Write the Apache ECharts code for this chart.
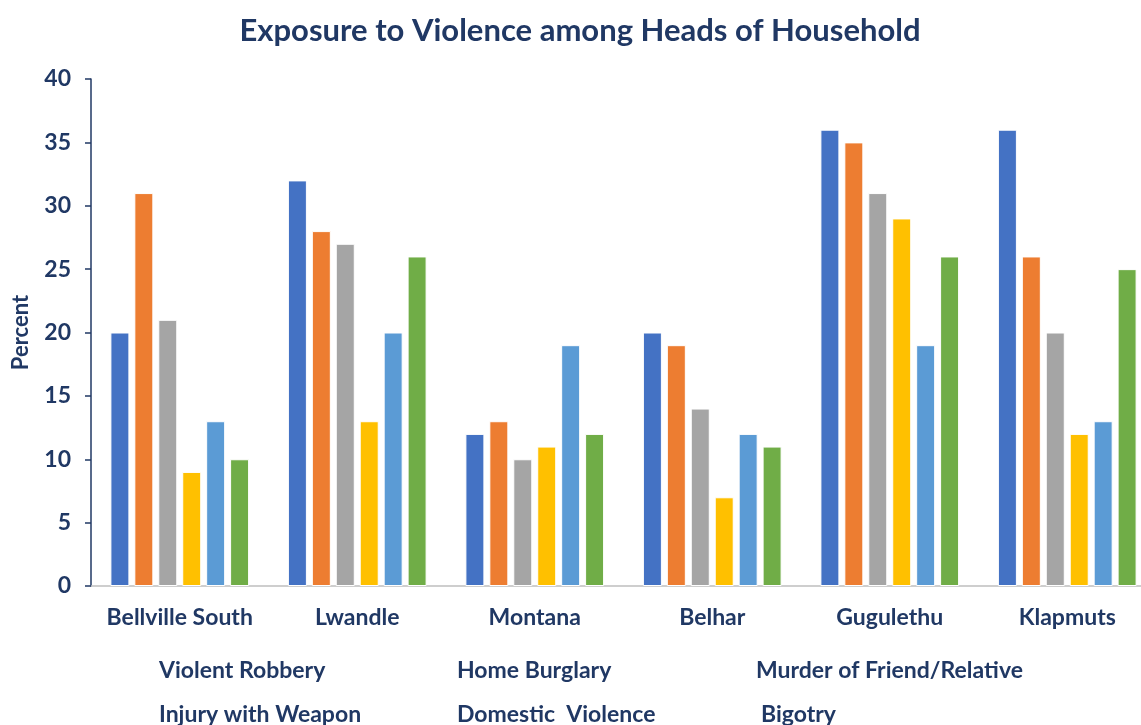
<!DOCTYPE html>
<html><head><meta charset="utf-8">
<script src="https://cdn.jsdelivr.net/npm/echarts@6/dist/echarts.min.js"></script>
<style>html,body{margin:0;padding:0;background:#fff;overflow:hidden}#c{width:1160px;height:725px}</style>
</head><body><div id="c"></div>
<script>
const categories = ['Bellville South', 'Lwandle', 'Montana', 'Belhar', 'Gugulethu', 'Klapmuts'];
const seriesNames = ['Violent Robbery', 'Home Burglary', 'Murder of Friend/Relative', 'Injury with Weapon', 'Domestic  Violence', 'Bigotry'];
const violentRobbery = [20, 32, 12, 20, 36, 36];
const homeBurglary = [31, 28, 13, 19, 35, 26];
const murder = [21, 27, 10, 14, 31, 20];
const injuryWeapon = [9, 13, 11, 7, 29, 12];
const domesticViolence = [13, 20, 19, 12, 19, 13];
const bigotry = [10, 26, 12, 11, 26, 25];
const yTicks = [0, 5, 10, 15, 20, 25, 30, 35, 40];

const values = [violentRobbery, homeBurglary, murder, injuryWeapon, domesticViolence, bigotry];
const colors = ['#4472C4', '#ED7D31', '#A5A5A5', '#FFC000', '#5B9BD5', '#70AD47'];
const navy = '#203864';
const font = 'Lato';
// legend text positions [left, top]
const legendPos = [[153, 654], [451, 654], [750, 654], [153, 698], [451, 698], [755, 698]];

const chart = echarts.init(document.getElementById('c'));
chart.setOption({
  title: {
    text: 'Exposure to Violence among Heads of Household', left: 'center', top: 10,
    textStyle: { color: navy, fontFamily: font, fontWeight: 'bold', fontSize: 31 }
  },
  legend: seriesNames.map((n, i) => ({
    left: legendPos[i][0], top: legendPos[i][1], data: [n],
    itemWidth: 0, itemHeight: 0, icon: 'rect', selectedMode: false,
    textStyle: { color: navy, fontFamily: font, fontWeight: 'bold', fontSize: 23, padding: [0, 0, 0, -5] }
  })),
  grid: { left: 91, right: 4, top: 79, height: 507, containLabel: false },
  xAxis: {
    type: 'category', data: categories,
    axisLine: { lineStyle: { color: '#BFBFBF', width: 1.5 } },
    axisTick: { show: false },
    axisLabel: { color: navy, fontFamily: font, fontWeight: 'bold', fontSize: 23, margin: 20, interval: 0 }
  },
  yAxis: {
    type: 'value', min: 0, max: 40, interval: 5,
    name: 'Percent', nameLocation: 'middle', nameGap: 59, nameRotate: 90,
    nameTextStyle: { color: navy, fontFamily: font, fontWeight: 'bold', fontSize: 22 },
    axisLine: { show: true, lineStyle: { color: navy, width: 1.5 } },
    axisTick: { show: true, length: 6, lineStyle: { color: navy, width: 1.5 } },
    splitLine: { show: false },
    axisLabel: {
      color: navy, fontFamily: font, fontWeight: 'bold', fontSize: 23, margin: 20,
      formatter: v => (yTicks.includes(v) ? String(v) : '')
    }
  },
  series: values.map((d, i) => ({
    name: seriesNames[i], type: 'bar', data: d, barWidth: 19, barGap: '26%',
    itemStyle: { color: colors[i], borderColor: '#fff', borderWidth: 1 }
  })),
  animation: false
});
</script></body></html>
